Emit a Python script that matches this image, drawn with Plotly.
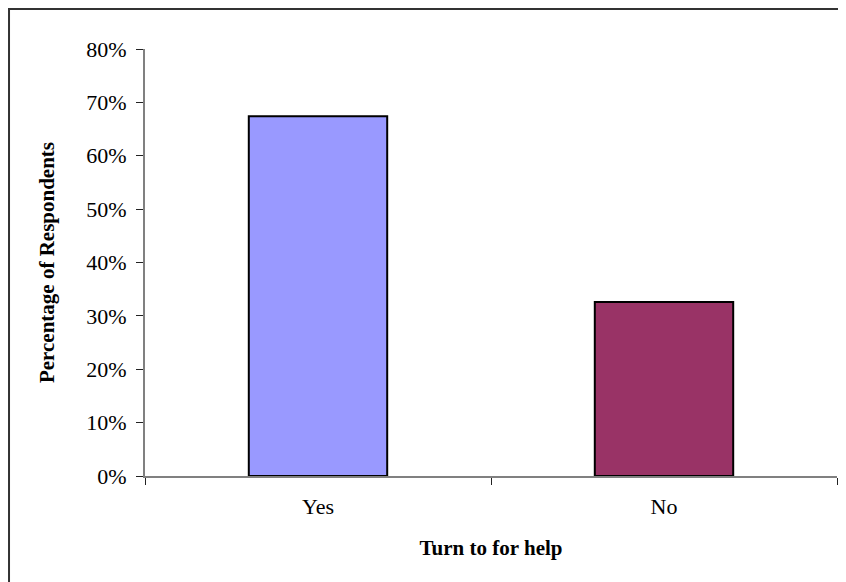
import plotly.graph_objects as go

categories = ["Yes", "No"]
values = [0.674, 0.326]
colors = ["#9999FF", "#993366"]
y_tick_vals = [0, 0.1, 0.2, 0.3, 0.4, 0.5, 0.6, 0.7, 0.8]

fig = go.Figure(go.Bar(
    x=categories, y=values,
    marker=dict(color=colors, line=dict(color="#000000", width=2)),
    width=0.4,
))

serif = "Liberation Serif, Times New Roman, serif"
fig.update_layout(
    width=846, height=582,
    margin=dict(l=137, r=17, t=41, b=114),
    paper_bgcolor="white", plot_bgcolor="white",
    showlegend=False,
    font=dict(family=serif, color="#000000", size=22),
    xaxis=dict(
        type="category", tickson="boundaries", ticks="outside", ticklen=7,
        tickcolor="#222222", showline=True, linecolor="#808080", linewidth=2,
        showgrid=False, zeroline=False, ticklabelstandoff=10,
        tickfont=dict(family=serif, size=22),
        title=dict(text="<b>Turn to for help</b>", font=dict(family=serif, size=21), standoff=22),
    ),
    yaxis=dict(
        range=[0, 0.8], tickvals=y_tick_vals, tickformat=".0%",
        ticks="outside", ticklen=7, tickcolor="#222222",
        showline=True, linecolor="#808080", linewidth=2,
        showgrid=False, zeroline=False, ticklabelstandoff=5,
        tickfont=dict(family=serif, size=22),
        title=dict(text="<b>Percentage of Respondents</b>", font=dict(family=serif, size=21), standoff=26),
    ),
    shapes=[dict(type="rect", xref="paper", yref="paper",
                 x0=-0.1965, x1=1.05, y0=-0.3, y1=1.0937,
                 line=dict(color="#333333", width=2), fillcolor="rgba(0,0,0,0)", layer="below")],
)

fig.write_html("out.html")
